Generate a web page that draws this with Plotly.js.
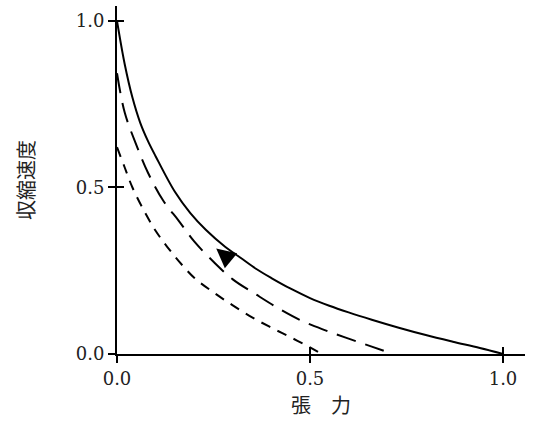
<!DOCTYPE html>
<html>
<head>
<meta charset="utf-8">
<script src="https://cdn.plot.ly/plotly-3.0.1.min.js"></script>
<style>html,body{margin:0;padding:0;background:#fff;}#chart{width:534px;height:434px;}</style>
</head>
<body>
<div id="chart"></div>
<script>
// Solid curve (full activation)
const solidForce = [0, 0.02, 0.04, 0.06, 0.08, 0.10, 0.15, 0.19, 0.23, 0.28, 0.32, 0.36, 0.40, 0.45, 0.50, 0.55, 0.60, 0.66, 0.73, 0.80, 0.87, 0.94, 1.0];
const solidVelocity = [1.0, 0.87, 0.77, 0.695, 0.64, 0.594, 0.487, 0.423, 0.373, 0.322, 0.289, 0.256, 0.228, 0.196, 0.168, 0.145, 0.125, 0.103, 0.079, 0.057, 0.037, 0.018, 0];
// Long-dashed curve
const longForce = [0, 0.02, 0.05, 0.08, 0.12, 0.16, 0.20, 0.25, 0.30, 0.36, 0.42, 0.48, 0.54, 0.60, 0.66, 0.715];
const longVelocity = [0.843, 0.725, 0.628, 0.545, 0.46, 0.40, 0.338, 0.277, 0.224, 0.179, 0.136, 0.099, 0.071, 0.046, 0.022, 0];
// Short-dashed curve
const shortForce = [0, 0.02, 0.04, 0.07, 0.10, 0.13, 0.16, 0.20, 0.25, 0.30, 0.35, 0.40, 0.45, 0.50, 0.53];
const shortVelocity = [0.621, 0.56, 0.50, 0.43, 0.37, 0.322, 0.279, 0.229, 0.185, 0.146, 0.11, 0.079, 0.05, 0.02, 0];
// Tick values / labels
const tickVals = [0, 0.5, 1.0];
const tickText = ['0.0', '0.5', '1.0'];
// Arrow head position
const arrowX = 0.257, arrowY = 0.317;

const lineStyle = (dash) => ({color: '#000', width: 2, dash: dash, shape: 'spline', smoothing: 1});

const traces = [
  {x: solidForce, y: solidVelocity, mode: 'lines', line: lineStyle('solid'), cliponaxis: false, hoverinfo: 'skip'},
  {x: longForce, y: longVelocity, mode: 'lines', line: lineStyle('20px,10px'), cliponaxis: false, hoverinfo: 'skip'},
  {x: shortForce, y: shortVelocity, mode: 'lines', line: lineStyle('10px,8px'), cliponaxis: false, hoverinfo: 'skip'},
  {x: [0], y: [0], xaxis: 'x2', yaxis: 'y2', mode: 'markers', marker: {opacity: 0}, hoverinfo: 'skip'}
];

const tickFont = {family: 'DejaVu Serif', size: 18, color: '#222'};
const xRange = [0, 1.057], yRange = [0, 1.045];

const layout = {
  width: 534, height: 434,
  margin: {l: 117, r: 9, t: 6, b: 80},
  paper_bgcolor: '#fff', plot_bgcolor: '#fff',
  showlegend: false,
  xaxis: {
    range: xRange, showgrid: false, zeroline: false,
    showline: true, linecolor: '#000', linewidth: 2,
    tickmode: 'array', tickvals: tickVals, ticktext: tickText,
    ticks: 'outside', ticklen: 7, tickwidth: 2, tickcolor: '#000',
    tickfont: tickFont,
    title: {text: '張　力', font: {family: 'Noto Sans CJK JP', size: 20, color: '#222'}, standoff: 11}
  },
  yaxis: {
    range: yRange, showgrid: false, zeroline: false,
    showline: true, linecolor: '#000', linewidth: 2,
    tickmode: 'array', tickvals: tickVals, ticktext: tickText,
    ticks: 'outside', ticklen: 7, tickwidth: 2, tickcolor: '#000',
    tickfont: tickFont,
    title: {text: '収縮速度', font: {family: 'Noto Sans CJK JP', size: 20, color: '#222'}, standoff: 36}
  },
  xaxis2: {
    overlaying: 'x', range: xRange, showgrid: false, zeroline: false, showline: false,
    tickmode: 'array', tickvals: tickVals, showticklabels: false,
    ticks: 'inside', ticklen: 7, tickwidth: 2, tickcolor: '#000', anchor: 'y2'
  },
  yaxis2: {
    overlaying: 'y', range: yRange, showgrid: false, zeroline: false, showline: false,
    tickmode: 'array', tickvals: tickVals, showticklabels: false,
    ticks: 'inside', ticklen: 7, tickwidth: 2, tickcolor: '#000', anchor: 'x2'
  },
  annotations: [{
    x: arrowX, y: arrowY, xref: 'x', yref: 'y', text: '',
    showarrow: true, arrowhead: 2, arrowsize: 1.1, arrowwidth: 3.5, arrowcolor: '#000',
    ax: 12, ay: 10
  }]
};

Plotly.newPlot('chart', traces, layout, {displayModeBar: false, staticPlot: true});
</script>
</body>
</html>
